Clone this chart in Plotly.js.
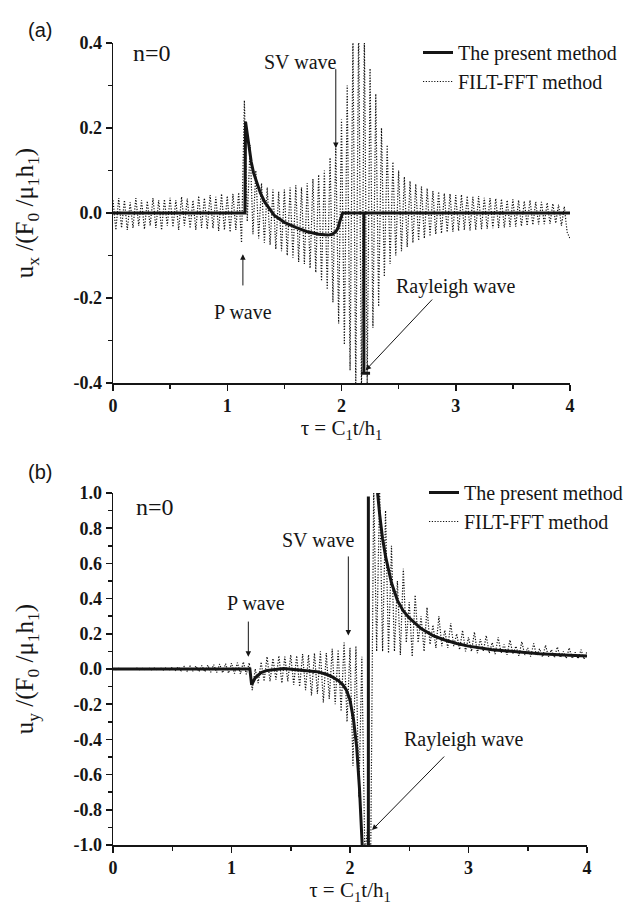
<!DOCTYPE html>
<html><head><meta charset="utf-8">
<script src="https://cdn.plot.ly/plotly-3.0.1.min.js"></script>
<style>html,body{margin:0;padding:0;background:#fff}#chart{width:631px;height:911px}</style>
</head><body><div id="chart"></div>
<script>
// sample times of the FILT-FFT solutions
const tauFFT = [0,0.025,0.05,0.075,0.1,0.125,0.15,0.175,0.2,0.225,0.25,0.275,0.3,0.325,0.35,0.375,0.4,0.425,0.45,0.475,0.5,0.525,0.55,0.575,0.6,0.625,0.65,0.675,0.7,0.725,0.75,0.775,0.8,0.825,0.85,0.875,0.9,0.925,0.95,0.975,1,1.025,1.05,1.075,1.1,1.125,1.15,1.175,1.2,1.225,1.25,1.275,1.3,1.325,1.35,1.375,1.4,1.425,1.45,1.475,1.5,1.525,1.55,1.575,1.6,1.625,1.65,1.675,1.7,1.725,1.75,1.775,1.8,1.825,1.85,1.875,1.9,1.925,1.95,1.975,2,2.025,2.05,2.075,2.1,2.125,2.15,2.175,2.2,2.225,2.25,2.275,2.3,2.325,2.35,2.375,2.4,2.425,2.45,2.475,2.5,2.525,2.55,2.575,2.6,2.625,2.65,2.675,2.7,2.725,2.75,2.775,2.8,2.825,2.85,2.875,2.9,2.925,2.95,2.975,3,3.025,3.05,3.075,3.1,3.125,3.15,3.175,3.2,3.225,3.25,3.275,3.3,3.325,3.35,3.375,3.4,3.425,3.45,3.475,3.5,3.525,3.55,3.575,3.6,3.625,3.65,3.675,3.7,3.725,3.75,3.775,3.8,3.825,3.85,3.875,3.9,3.925,3.95,3.975,4];

// (a) u_x, FILT-FFT method
const uxFFT = [0.03,-0.04,0.035,-0.035,0.03,-0.04,0.025,-0.035,0.035,-0.03,
0.03,-0.038,0.028,-0.03,0.035,-0.035,0.03,-0.04,0.032,-0.03,
0.036,-0.033,0.03,-0.04,0.038,-0.03,0.034,-0.036,0.03,-0.04,
0.04,-0.035,0.035,-0.038,0.042,-0.036,0.038,-0.042,0.045,-0.04,
0.04,-0.045,0.045,-0.04,0.048,-0.07,0.265,-0.02,0.16,-0.05,
0.1,-0.06,0.07,-0.07,0.06,-0.075,0.055,-0.085,0.05,-0.09,
0.055,-0.1,0.06,-0.105,0.065,-0.115,0.06,-0.12,0.07,-0.13,
0.08,-0.14,0.09,-0.16,0.1,-0.18,0.13,-0.21,0.16,-0.26,
0.22,-0.31,0.3,-0.37,0.42,-0.42,0.45,-0.42,0.42,-0.4,
0.34,-0.27,0.28,-0.22,0.2,-0.15,0.16,-0.12,0.12,-0.1,
0.1,-0.09,0.085,-0.08,0.075,-0.07,0.068,-0.065,0.062,-0.06,
0.058,-0.055,0.052,-0.05,0.05,-0.048,0.046,-0.045,0.045,-0.044,
0.042,-0.042,0.043,-0.04,0.04,-0.041,0.038,-0.04,0.04,-0.038,
0.036,-0.037,0.035,-0.036,0.034,-0.035,0.033,-0.034,0.03,-0.033,
0.032,-0.032,0.03,-0.031,0.028,-0.03,0.03,-0.028,0.026,-0.027,
0.026,-0.026,0.024,-0.025,0.022,-0.024,0.02,-0.03,0.015,-0.045,
-0.06];

// (a) u_x, present method
const tauPresentA = [0,1.155,1.16,1.175,1.19,1.21,1.23,1.26,1.29,1.33,1.37,1.41,1.5,1.6,1.7,1.8,1.88,1.92,1.95,1.97,1.985,2.0,2.01,2.196,2.196,2.17,2.25,2.196,2.196,4];
const uxPresent   = [0,0,0.215,0.185,0.15,0.12,0.095,0.07,0.047,0.025,0.01,-0.005,-0.022,-0.034,-0.044,-0.05,-0.052,-0.05,-0.044,-0.035,-0.02,-0.005,0,0,-0.377,-0.377,-0.377,-0.377,0,0];

// (b) u_y, FILT-FFT method
const uyFFT = [0.003,-0.003,0.004,-0.002,0.003,-0.004,0.002,-0.003,0.005,-0.004,
0.004,-0.005,0.006,-0.004,0.005,-0.006,0.007,-0.005,0.008,-0.007,
0.01,-0.008,0.012,-0.01,0.014,-0.012,0.016,-0.013,0.018,-0.015,
0.02,-0.016,0.022,-0.018,0.025,-0.02,0.028,-0.022,0.03,-0.024,
0.033,-0.026,0.036,-0.028,0.04,-0.03,0.035,-0.12,0.0,-0.08,
0.04,-0.07,0.07,-0.07,0.06,-0.06,0.075,-0.08,0.07,-0.07,
0.08,-0.09,0.075,-0.1,0.085,-0.12,0.08,-0.15,0.09,-0.14,
0.1,-0.19,0.09,-0.17,0.115,-0.2,0.11,-0.24,0.15,-0.3,
0.12,-0.55,0.13,-0.73,0.07,-1.05,-0.9,-1.05,1.03,0.1,
1.02,0.1,0.9,0.09,0.7,0.1,0.5,0.08,0.57,0.15,
0.38,0.07,0.42,0.15,0.3,0.1,0.35,0.14,0.25,0.12,
0.3,0.13,0.22,0.12,0.26,0.13,0.2,0.11,0.22,0.1,
0.18,0.1,0.21,0.09,0.17,0.1,0.19,0.09,0.15,0.085,
0.18,0.09,0.14,0.08,0.165,0.085,0.13,0.075,0.155,0.08,
0.12,0.07,0.145,0.075,0.115,0.068,0.135,0.07,0.11,0.065,
0.125,0.065,0.1,0.06,0.12,0.06,0.095,0.058,0.11,0.055,
0.1];

// (b) u_y, present method
const tauPresentB = [0,1.155,1.17,1.2,1.25,1.3,1.44,1.6,1.72,1.8,1.85,1.9,1.94,1.97,2.0,2.03,2.056,2.08,2.1,2.11,2.125,2.155,2.155,null,2.21,2.23,2.25,2.275,2.3,2.35,2.4,2.45,2.5,2.6,2.7,2.8,2.9,3.0,3.2,3.4,3.6,3.8,4.0];
const uyPresent   = [0,0,-0.09,-0.05,-0.02,-0.008,0.003,-0.005,-0.015,-0.03,-0.045,-0.065,-0.09,-0.12,-0.176,-0.29,-0.44,-0.68,-0.95,-1.1,-1.1,-1.1,0.98,null,1.3,1.02,0.88,0.74,0.64,0.49,0.39,0.33,0.29,0.23,0.19,0.165,0.145,0.13,0.11,0.097,0.087,0.08,0.074];

// tick labels
const xTickVals = [0,1,2,3,4];
const xTickText = ['0','1','2','3','4'];
const yTickValsA = [-0.4,-0.2,0,0.2,0.4];
const yTickTextA = ['-0.4','-0.2','0.0','0.2','0.4'];
const yTickValsB = [-1,-0.8,-0.6,-0.4,-0.2,0,0.2,0.4,0.6,0.8,1];
const yTickTextB = ['-1.0','-0.8','-0.6','-0.4','-0.2','0.0','0.2','0.4','0.6','0.8','1.0'];
const seriesNames = ['The present method','FILT-FFT method'];

const serif = '"Liberation Serif", "Times New Roman", Times, serif';
const sans = '"Liberation Sans", Arial, sans-serif';
const ink = '#151515';
const fftLine = {color: '#111', width: 1.2, dash: '1.2px,1.6px'};
const presentLine = {color: ink, width: 3};
const bold = arr => arr.map(s => '<b>' + s + '</b>');

const traces = [
  {x: tauFFT, y: uxFFT, type:'scatter', mode:'lines', name: seriesNames[1], line: fftLine, xaxis:'x', yaxis:'y', legend:'legend', legendrank:2, hoverinfo:'skip'},
  {x: tauPresentA, y: uxPresent, type:'scatter', mode:'lines', name: seriesNames[0], line: presentLine, xaxis:'x', yaxis:'y', legend:'legend', legendrank:1, connectgaps:false},
  {x: tauFFT, y: uyFFT, type:'scatter', mode:'lines', name: seriesNames[1], line: fftLine, xaxis:'x2', yaxis:'y2', legend:'legend2', legendrank:2, hoverinfo:'skip'},
  {x: tauPresentB, y: uyPresent, type:'scatter', mode:'lines', name: seriesNames[0], line: presentLine, xaxis:'x2', yaxis:'y2', legend:'legend2', legendrank:1, connectgaps:false}
];

const tickFont = {family: serif, size: 18, weight: 'bold', color: ink};
function xAxis(domain, anchor) {
  return {domain: domain, anchor: anchor, range: [0,4], tickmode:'array', tickvals: xTickVals, ticktext: bold(xTickText),
    ticks:'outside', ticklen:6, tickwidth:1.5, tickcolor: ink, showline:true, linewidth:1.5, linecolor: ink,
    zeroline:false, showgrid:false, tickfont: tickFont,
    minor: {dtick: 0.5, tick0: 0, ticks:'outside', ticklen:4, tickwidth:1.5, tickcolor: ink, showgrid:false},
    title: {text: 'τ = C<sub>1</sub>t/h<sub>1</sub>', font: {family: serif, size: 21, color: ink}, standoff: 4},
    automargin:false, fixedrange:true};
}
function yAxis(domain, anchor, range, vals, text, title) {
  return {domain: domain, anchor: anchor, range: range, tickmode:'array', tickvals: vals, ticktext: bold(text),
    ticks:'outside', ticklen:6, tickwidth:1.5, tickcolor: ink, showline:true, linewidth:1.5, linecolor: ink,
    zeroline:false, showgrid:false, tickfont: tickFont,
    minor: {dtick: 0.1, tick0: 0, ticks:'outside', ticklen:4, tickwidth:1.5, tickcolor: ink, showgrid:false},
    title: {text: title, font: {family: serif, size: 25, color: ink}, standoff: 32},
    automargin:false, fixedrange:true};
}

const W = 631, H = 911;
const px = v => v / W, py = v => 1 - v / H;

const legendCommon = {xanchor:'left', yanchor:'top', bgcolor:'rgba(0,0,0,0)', borderwidth:0,
  font: {family: serif, size: 20, color: ink}, tracegroupgap: 0, traceorder:'normal'};

const txt = (x, y, xref, yref, text, size) => ({x, y, xref, yref, text, showarrow:false,
  font:{family: serif, size: size || 20, color: ink}, xanchor:'center', yanchor:'middle'});
const arrow = (x, y, ax, ay, xr, yr) => ({x, y, ax, ay, xref: xr, yref: yr, axref: xr, ayref: yr,
  text:'', showarrow:true, arrowhead:2, arrowsize:1.1, arrowwidth:1, arrowcolor: ink, standoff:0, startstandoff:0});

const layout = {
  width: W, height: H, margin: {l:0, r:0, t:0, b:0},
  paper_bgcolor:'#fff', plot_bgcolor:'#fff', showlegend:true, hovermode:false,
  font: {family: serif, color: ink},
  xaxis: xAxis([px(113), px(570)], 'y'),
  yaxis: yAxis([py(383), py(43)], 'x', [-0.4, 0.4], yTickValsA, yTickTextA, 'u<sub>x</sub> /(F<sub>0</sub> /μ<sub>1</sub>h<sub>1</sub>)'),
  xaxis2: xAxis([px(113), px(587)], 'y2'),
  yaxis2: yAxis([py(845), py(493)], 'x2', [-1, 1], yTickValsB, yTickTextB, 'u<sub>y</sub> /(F<sub>0</sub> /μ<sub>1</sub>h<sub>1</sub>)'),
  legend: Object.assign({x: px(418), y: py(33)}, legendCommon),
  legend2: Object.assign({x: px(424), y: py(473)}, legendCommon),
  annotations: [
    {x: px(26), y: py(17), xref:'paper', yref:'paper', text:'(a)', showarrow:false, font:{family: sans, size:20, color: ink}},
    {x: px(26), y: py(472), xref:'paper', yref:'paper', text:'(b)', showarrow:false, font:{family: sans, size:20, color: ink}},
    txt(0.34, 0.377, 'x', 'y', 'n=0', 24),
    txt(1.645, 0.356, 'x', 'y', 'SV wave'),
    txt(1.135, -0.233, 'x', 'y', 'P wave'),
    txt(3.0, -0.172, 'x', 'y', 'Rayleigh wave'),
    arrow(1.95, 0.153, 1.95, 0.342, 'x', 'y'),
    arrow(1.137, -0.097, 1.137, -0.174, 'x', 'y'),
    arrow(2.211, -0.37, 2.806, -0.2, 'x', 'y'),
    txt(0.354, 0.92, 'x2', 'y2', 'n=0', 24),
    txt(1.207, 0.375, 'x2', 'y2', 'P wave'),
    txt(1.73, 0.733, 'x2', 'y2', 'SV wave'),
    txt(2.96, -0.4, 'x2', 'y2', 'Rayleigh wave'),
    arrow(1.142, 0.07, 1.142, 0.278, 'x2', 'y2'),
    arrow(1.986, 0.19, 1.986, 0.648, 'x2', 'y2'),
    arrow(2.186, -0.915, 2.807, -0.489, 'x2', 'y2')
  ]
};

Plotly.newPlot('chart', traces, layout, {staticPlot:true, displayModeBar:false});
</script></body></html>
